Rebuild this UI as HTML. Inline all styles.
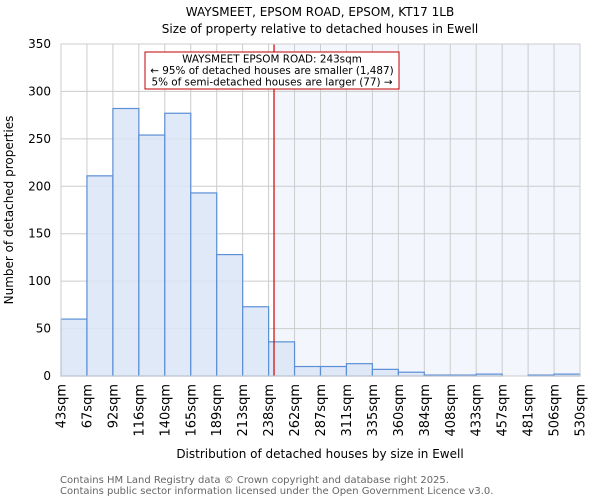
<!DOCTYPE html>
<html><head><meta charset="utf-8"><style>
body{margin:0;background:#fff;font-family:"DejaVu Sans","Liberation Sans",sans-serif;}
svg text{font-family:"DejaVu Sans","Liberation Sans",sans-serif;}
</style></head><body>
<svg id="chart" width="600" height="500" viewBox="0 0 600 500">
<text x="320" y="16" text-anchor="middle" font-size="12">WAYSMEET, EPSOM ROAD, EPSOM, KT17 1LB</text>
<text x="320" y="33" text-anchor="middle" font-size="12">Size of property relative to detached houses in Ewell</text>
<g id="plot"></g>
<text x="320" y="458" text-anchor="middle" font-size="12">Distribution of detached houses by size in Ewell</text>
<text transform="translate(13,210) rotate(-90)" text-anchor="middle" font-size="12">Number of detached properties</text>
<text x="60" y="483" font-size="10" fill="#666">Contains HM Land Registry data © Crown copyright and database right 2025.</text>
<text x="60" y="494" font-size="10" fill="#666">Contains public sector information licensed under the Open Government Licence v3.0.</text>
</svg>
<script>
const edgeLabels=["43sqm","67sqm","92sqm","116sqm","140sqm","165sqm","189sqm","213sqm","238sqm","262sqm","287sqm","311sqm","335sqm","360sqm","384sqm","408sqm","433sqm","457sqm","481sqm","506sqm","530sqm"];
const counts=[60,211,282,254,277,193,128,73,36,10,10,13,7,4,1,1,2,0,1,2];
const yTicks=[0,50,100,150,200,250,300,350];
const subjectSize=243;
const edgeValues=[43,67,92,116,140,165,189,213,238,262,287,311,335,360,384,408,433,457,481,506,530];
const NS="http://www.w3.org/2000/svg";
const L=61,R=580,T=44,B=376,yMax=350;
const n=counts.length,bw=(R-L)/n;
const xi=i=>L+i*bw;
const y=v=>B-v/yMax*(B-T);
function xv(v){for(let i=0;i<edgeValues.length-1;i++){if(v<=edgeValues[i+1]){return xi(i)+(v-edgeValues[i])/(edgeValues[i+1]-edgeValues[i])*bw;}}return R;}
const g=document.getElementById('plot');
function mk(t,a){const e=document.createElementNS(NS,t);for(const k in a)e.setAttribute(k,a[k]);g.appendChild(e);return e;}
const rx=xv(subjectSize);
let e=mk('rect',{x:rx,y:T,width:R-rx,height:B-T,fill:'#f3f6fd'});


yTicks.forEach(t=>{let l=mk('line',{x1:L,x2:R,y1:y(t),y2:y(t),stroke:'#cccccc','stroke-width':1});


let tx=mk('text',{x:L-10,y:y(t)+4,'text-anchor':'end','font-size':12});tx.textContent=t;

});
edgeLabels.forEach((s,i)=>{let l=mk('line',{x1:xi(i),x2:xi(i),y1:T,y2:B,stroke:'#cccccc','stroke-width':1});


let tx=mk('text',{transform:`translate(${xi(i)+4.5},384) rotate(-90)`,'text-anchor':'end','font-size':13});tx.textContent=s;

});
counts.forEach((c,i)=>{let r=mk('rect',{x:xi(i),y:y(c),width:bw,height:B-y(c),fill:'#dae5f6',stroke:'#5b8fd6','stroke-width':1.2,'fill-opacity':0.85});

});
e=mk('line',{x1:rx,x2:rx,y1:T,y2:B,stroke:'#d00000','stroke-width':1.2});


e=mk('rect',{x:145,y:52,width:254,height:37,fill:'#fff',stroke:'#c00000','stroke-width':1});


["WAYSMEET EPSOM ROAD: 243sqm","← 95% of detached houses are smaller (1,487)","5% of semi-detached houses are larger (77) →"].forEach((s,i)=>{let tx=mk('text',{x:272,y:62.5+i*11.5,'text-anchor':'middle','font-size':10.4});tx.textContent=s;

});
e=mk('rect',{x:L,y:T,width:R-L,height:B-T,fill:'none',stroke:'#cccccc','stroke-width':1});


</script>
</body></html>
